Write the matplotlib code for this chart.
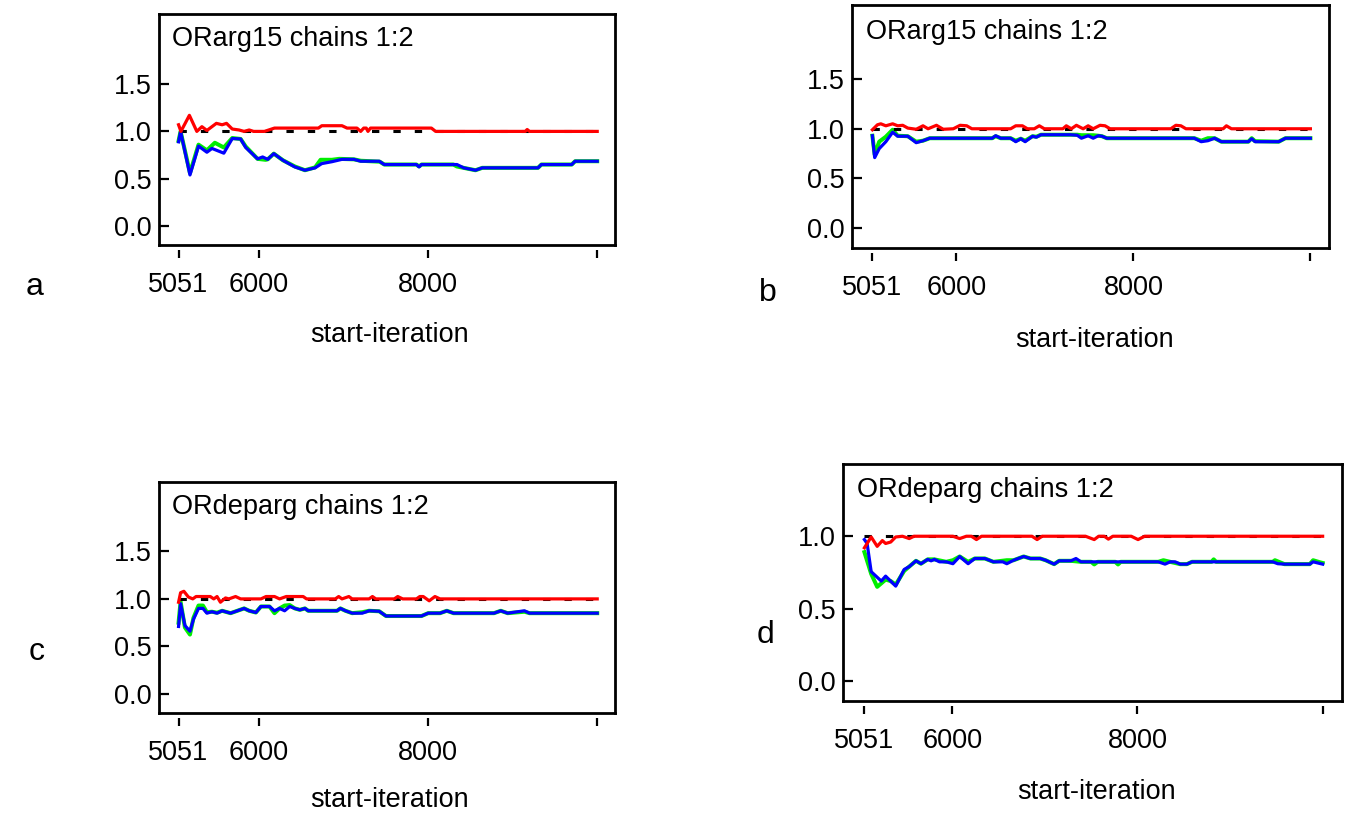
import matplotlib
matplotlib.use("Agg")
import matplotlib.pyplot as plt

plt.rcParams['font.family'] = ['Liberation Sans', 'DejaVu Sans']

# --- panel a : ORarg15 (first run) ---
a_red_x = [5051, 5079, 5179, 5267, 5327, 5386, 5498, 5566, 5618, 5686, 5766, 5826, 5886, 5938,
           6066, 6185, 6704, 6744, 6983, 7043, 7160, 7204, 7240, 7270, 7290, 7320, 8040, 8090,
           9150, 9172, 9200, 10000]
a_red_y = [1.07, 1.0, 1.17, 1.0, 1.05, 1.01, 1.085, 1.07, 1.085, 1.025, 1.015, 1.0, 1.015, 1.0,
           1.0, 1.035, 1.035, 1.06, 1.06, 1.035, 1.035, 1.0, 1.035, 1.035, 1.0, 1.035, 1.035, 1.0,
           1.0, 1.02, 1.0, 1.0]
a_blue_x = [5051, 5075, 5186, 5287, 5386, 5446, 5586, 5686, 5785, 5845, 5985, 6045, 6105, 6177,
            6285, 6425, 6545, 6665, 6744, 6864, 6983, 7124, 7204, 7423, 7483, 7863, 7894, 7923,
            8342, 8421, 8561, 8641, 9300, 9340, 9699, 9739, 10000]
a_blue_y = [0.89, 1.0, 0.54, 0.845, 0.78, 0.82, 0.77, 0.925, 0.92, 0.83, 0.71, 0.73, 0.705, 0.765,
            0.695, 0.625, 0.59, 0.615, 0.66, 0.68, 0.705, 0.705, 0.685, 0.685, 0.65, 0.65, 0.625, 0.65,
            0.65, 0.615, 0.59, 0.615, 0.615, 0.65, 0.65, 0.685, 0.685]
a_green_x = [5051, 5075, 5186, 5287, 5386, 5480, 5586, 5686, 5785, 5845, 5985, 6080, 6105, 6177,
             6285, 6425, 6545, 6665, 6730, 6864, 6950, 7124, 7204, 7430, 7483, 7863, 7894, 7923,
             8300, 8340, 8421, 8561, 8641, 9300, 9340, 9699, 9739, 10000]
a_green_y = [0.9, 1.0, 0.56, 0.86, 0.80, 0.88, 0.83, 0.93, 0.92, 0.84, 0.71, 0.70, 0.705, 0.765,
             0.695, 0.63, 0.59, 0.62, 0.70, 0.70, 0.71, 0.705, 0.69, 0.68, 0.65, 0.65, 0.63, 0.65,
             0.65, 0.63, 0.615, 0.59, 0.615, 0.615, 0.65, 0.65, 0.685, 0.685]

# --- panel b : ORarg15 (second run) ---
b_red_x = [5051, 5108, 5146, 5203, 5280, 5337, 5394, 5451, 5546, 5623, 5680, 5775, 5851, 5965,
           6042, 6117, 6175, 6613, 6671, 6746, 6803, 6880, 6937, 6994, 7203, 7242, 7299, 7356,
           7432, 7489, 7546, 7623, 7680, 7737, 8422, 8480, 8537, 8594, 9014, 9051, 9108, 10000]
b_red_y = [0.99, 1.04, 1.05, 1.03, 1.05, 1.03, 1.035, 1.007, 0.995, 1.03, 1.0, 1.035, 0.995, 1.0,
           1.035, 1.03, 1.0, 1.0, 1.03, 1.03, 1.0, 1.0, 1.03, 1.0, 1.0, 1.03, 1.0, 1.035,
           1.0, 1.03, 1.0, 1.035, 1.03, 1.0, 1.0, 1.035, 1.03, 1.0, 1.0, 1.03, 1.0, 1.0]
b_blue_x = [5051, 5077, 5128, 5203, 5280, 5337, 5451, 5546, 5623, 5699, 6405, 6444, 6501, 6613,
            6671, 6728, 6777, 6861, 6903, 6956, 7288, 7365, 7413, 7489, 7546, 7603, 7645, 7699,
            8689, 8766, 8842, 8918, 8994, 9299, 9337, 9375, 9642, 9718, 10000]
b_blue_y = [0.93, 0.71, 0.80, 0.87, 0.965, 0.925, 0.925, 0.86, 0.88, 0.905, 0.905, 0.93, 0.905, 0.905,
            0.87, 0.90, 0.87, 0.925, 0.915, 0.94, 0.94, 0.935, 0.905, 0.93, 0.905, 0.93, 0.925, 0.905,
            0.905, 0.87, 0.88, 0.905, 0.87, 0.87, 0.90, 0.87, 0.87, 0.905, 0.905]
b_green_x = [5051, 5077, 5128, 5203, 5280, 5337, 5451, 5546, 5623, 5699, 6405, 6444, 6501, 6613,
             6671, 6728, 6777, 6861, 6903, 6956, 7288, 7365, 7413, 7489, 7546, 7603, 7645, 7699,
             8689, 8766, 8842, 8918, 8994, 9299, 9337, 9375, 9642, 9718, 10000]
b_green_y = [0.93, 0.74, 0.87, 0.92, 0.99, 0.93, 0.925, 0.87, 0.88, 0.905, 0.905, 0.925, 0.905, 0.905,
             0.88, 0.90, 0.88, 0.925, 0.92, 0.94, 0.94, 0.94, 0.935, 0.935, 0.935, 0.93, 0.925, 0.905,
             0.905, 0.88, 0.905, 0.905, 0.87, 0.87, 0.905, 0.875, 0.87, 0.905, 0.905]

# --- panel c : ORdeparg (first run) ---
c_red_x = [5051, 5075, 5114, 5167, 5219, 5258, 5426, 5467, 5506, 5546, 5606, 5646, 5725, 5785,
           6025, 6085, 6185, 6245, 6324, 6524, 6564, 6904, 6944, 6983, 7064, 7103, 7303, 7343,
           7383, 7601, 7642, 7701, 7863, 7903, 7943, 8014, 8082, 8142, 10000]
c_red_y = [0.965, 1.065, 1.08, 1.02, 1.0, 1.025, 1.025, 1.0, 1.025, 0.965, 1.01, 1.0, 1.025, 1.0,
           1.0, 1.025, 1.025, 1.0, 1.025, 1.025, 1.0, 1.0, 1.025, 1.0, 1.025, 1.0, 1.0, 1.025,
           1.0, 1.0, 1.025, 1.0, 1.0, 1.025, 1.025, 0.98, 1.025, 1.0, 1.0]
c_blue_x = [5051, 5075, 5126, 5186, 5227, 5287, 5339, 5386, 5446, 5506, 5566, 5666, 5746, 5826,
            5886, 5965, 6025, 6126, 6185, 6245, 6305, 6365, 6425, 6485, 6545, 6584, 6924, 6964,
            7024, 7103, 7223, 7303, 7423, 7503, 7923, 8002, 8142, 8222, 8302, 8780, 8860, 8941,
            9140, 9200, 10000]
c_blue_y = [0.71, 0.95, 0.72, 0.66, 0.785, 0.90, 0.90, 0.85, 0.865, 0.85, 0.875, 0.85, 0.875, 0.90,
            0.875, 0.857, 0.92, 0.92, 0.875, 0.90, 0.875, 0.92, 0.90, 0.885, 0.90, 0.875, 0.875, 0.90,
            0.875, 0.85, 0.85, 0.875, 0.87, 0.82, 0.82, 0.85, 0.85, 0.875, 0.85, 0.85, 0.875, 0.85,
            0.875, 0.85, 0.85]
c_green_x = [5051, 5075, 5126, 5186, 5227, 5287, 5339, 5386, 5446, 5506, 5566, 5666, 5746, 5826,
             5886, 5965, 6025, 6126, 6185, 6245, 6305, 6365, 6425, 6485, 6545, 6584, 6924, 6964,
             7024, 7103, 7223, 7303, 7423, 7503, 7923, 8002, 8142, 8222, 8302, 8780, 8860, 8941,
             9140, 9200, 10000]
c_green_y = [0.75, 0.97, 0.70, 0.625, 0.80, 0.93, 0.93, 0.86, 0.865, 0.855, 0.875, 0.85, 0.875, 0.90,
             0.875, 0.857, 0.92, 0.92, 0.85, 0.90, 0.93, 0.935, 0.90, 0.885, 0.90, 0.875, 0.875, 0.90,
             0.875, 0.85, 0.86, 0.875, 0.87, 0.82, 0.82, 0.85, 0.85, 0.875, 0.85, 0.85, 0.875, 0.85,
             0.865, 0.85, 0.85]

# --- panel d : ORdeparg (second run) ---
d_red_x = [5051, 5124, 5189, 5245, 5280, 5335, 5389, 5462, 5535, 5586, 6007, 6080, 6152, 6207,
           6261, 6316, 6861, 6916, 6970, 7439, 7533, 7581, 7642, 7686, 7734, 7933, 8006, 8078, 10000]
d_red_y = [0.92, 0.995, 0.93, 0.97, 0.95, 0.96, 0.995, 1.0, 0.984, 1.0, 1.0, 0.984, 1.0, 1.0,
           0.977, 1.0, 1.0, 0.977, 1.0, 1.0, 0.977, 1.0, 1.0, 0.98, 1.0, 1.0, 0.977, 1.0, 1.0]
d_blue_x = [5051, 5080, 5124, 5233, 5280, 5389, 5480, 5535, 5608, 5662, 5735, 5771, 5807, 5862,
            5935, 6007, 6080, 6171, 6243, 6352, 6444, 6546, 6589, 6662, 6771, 6844, 6950, 7008,
            7100, 7154, 7281, 7336, 7390, 8225, 8298, 8353, 8407, 8462, 8534, 8589, 9461, 9515,
            9588, 9861, 9897, 9948, 10000]
d_blue_y = [0.977, 0.95, 0.755, 0.69, 0.724, 0.655, 0.77, 0.79, 0.83, 0.81, 0.84, 0.83, 0.84, 0.823,
            0.823, 0.81, 0.86, 0.81, 0.846, 0.846, 0.823, 0.823, 0.81, 0.834, 0.86, 0.846, 0.846, 0.834,
            0.807, 0.83, 0.83, 0.846, 0.823, 0.823, 0.807, 0.823, 0.823, 0.807, 0.807, 0.823, 0.823, 0.81,
            0.807, 0.807, 0.823, 0.815, 0.807]
d_green_x = [5051, 5124, 5189, 5280, 5335, 5389, 5480, 5535, 5608, 5662, 5735, 5807, 5935, 6007,
             6080, 6171, 6243, 6352, 6444, 6589, 6662, 6771, 6844, 6950, 7008, 7100, 7154, 7281,
             7390, 7500, 7533, 7570, 7760, 7790, 7820, 8225, 8280, 8353, 8462, 8534, 8589, 8800,
             8823, 8850, 9461, 9485, 9588, 9861, 9897, 9970, 10000]
d_green_y = [0.89, 0.74, 0.65, 0.70, 0.69, 0.665, 0.76, 0.79, 0.83, 0.81, 0.84, 0.84, 0.823, 0.834,
             0.86, 0.823, 0.846, 0.846, 0.823, 0.834, 0.834, 0.86, 0.846, 0.846, 0.834, 0.807, 0.83, 0.83,
             0.823, 0.823, 0.805, 0.823, 0.823, 0.805, 0.823, 0.823, 0.834, 0.823, 0.807, 0.807, 0.823, 0.823,
             0.84, 0.823, 0.823, 0.834, 0.807, 0.807, 0.834, 0.82, 0.815]

x_ticks = [5051, 6000, 8000, 10000]
x_ticklabels = ['5051', '6000', '8000', '']
x_lim = (4820, 10210)

fig = plt.figure(figsize=(13.51, 8.14), dpi=100)


def panel(rect, title, red, green, blue, ylim, yticks, yticklabels):
    ax = fig.add_axes(rect)
    ax.plot(green[0], green[1], color='#00ee00', lw=2.9, zorder=2)
    ax.plot(blue[0], blue[1], color='#0000ff', lw=2.3, zorder=3)
    ax.plot([5051, 10000], [1.0, 1.0], color='black', lw=2.2,
            linestyle=(0, (2.4, 4.6)), zorder=2.5)
    ax.plot(red[0], red[1], color='#ff0000', lw=2.3, zorder=4)
    ax.set_xlim(*x_lim)
    ax.set_ylim(*ylim)
    ax.set_yticks(yticks)
    ax.set_yticklabels(yticklabels)
    ax.tick_params(axis='y', direction='in', length=7, width=1.6, labelsize=19.5, pad=5)
    ax.set_xticks([])
    for s in ax.spines.values():
        s.set_linewidth(2.0)
    # x ticks sit a little below the frame, as in WinBUGS output
    h = rect[3] * 814
    sec = ax.secondary_xaxis(-5.0 / h)
    sec.spines['bottom'].set_visible(False)
    sec.set_xticks(x_ticks)
    sec.set_xticklabels(x_ticklabels)
    sec.tick_params(axis='x', direction='out', length=6, width=1.6, labelsize=19.5, pad=10)
    ax.text(0.029, 0.862, title, transform=ax.transAxes, fontsize=19.5, va='baseline', ha='left')
    return ax


y_std = [0.0, 0.5, 1.0, 1.5]
y_std_lab = ['0.0', '0.5', '1.0', '1.5']

panel([0.1177, 0.699, 0.3375, 0.2838], 'ORarg15 chains 1:2',
      (a_red_x, a_red_y), (a_green_x, a_green_y), (a_blue_x, a_blue_y),
      (-0.2, 2.24), y_std, y_std_lab)
panel([0.6306, 0.6953, 0.3531, 0.2985], 'ORarg15 chains 1:2',
      (b_red_x, b_red_y), (b_green_x, b_green_y), (b_blue_x, b_blue_y),
      (-0.2, 2.245), y_std, y_std_lab)
panel([0.1177, 0.1241, 0.3375, 0.2838], 'ORdeparg chains 1:2',
      (c_red_x, c_red_y), (c_green_x, c_green_y), (c_blue_x, c_blue_y),
      (-0.2, 2.23), y_std, y_std_lab)
panel([0.624, 0.1388, 0.3694, 0.2912], 'ORdeparg chains 1:2',
      (d_red_x, d_red_y), (d_green_x, d_green_y), (d_blue_x, d_blue_y),
      (-0.14, 1.5), [0.0, 0.5, 1.0], ['0.0', '0.5', '1.0'])

# x labels and panel letters
W, H = 1351.0, 814.0
for (px, py) in [(390, 335), (1095, 340), (390, 800), (1097, 792)]:
    fig.text(px / W, 1 - py / H, 'start-iteration', fontsize=19.5, ha='center', va='center')
for letter, (px, py) in zip('abcd', [(35, 287), (768, 293), (37, 652), (766, 635)]):
    fig.text(px / W, 1 - py / H, letter, fontsize=23, ha='center', va='center')

fig.savefig('out.png', dpi=100)
